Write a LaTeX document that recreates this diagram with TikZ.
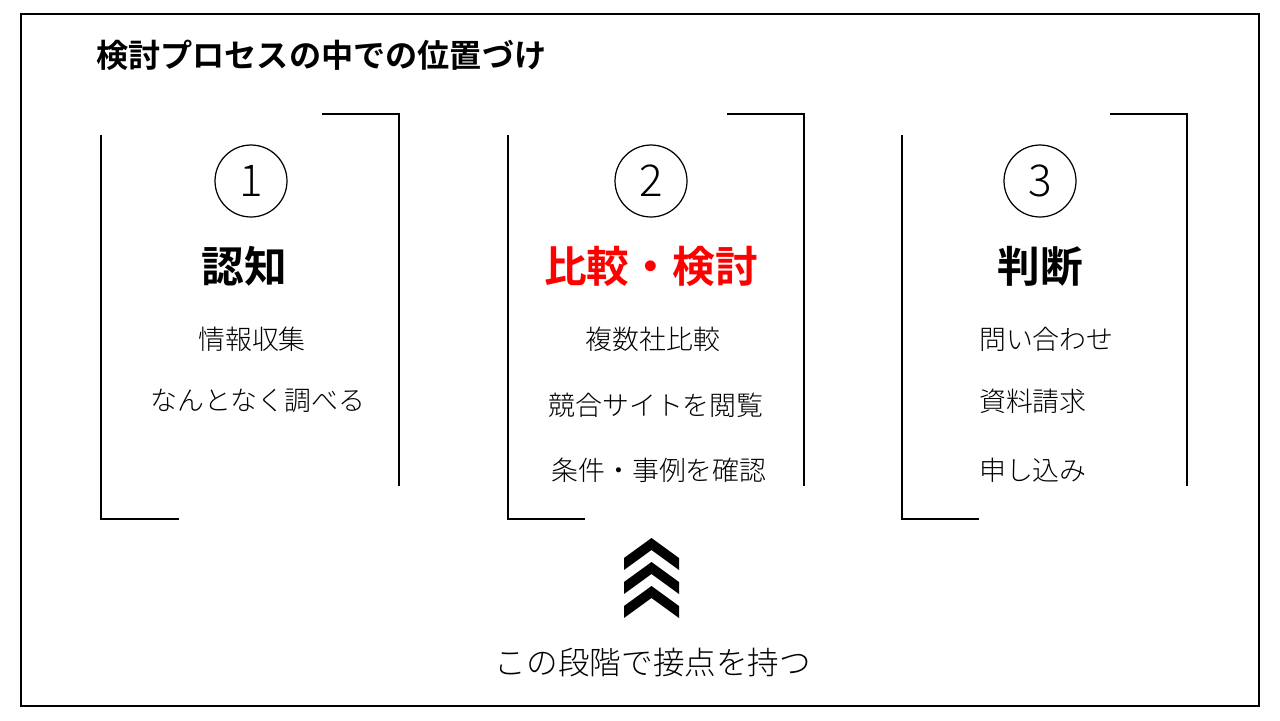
\documentclass[tikz,border=0pt]{standalone}
\usepackage{fontspec}
\setmainfont{Noto Sans CJK JP Light}
\newfontfamily\jpbold{Noto Sans CJK JP Bold}
\begin{document}
\begin{tikzpicture}[x=0.02cm, y=-0.02cm]
\tikzset{numnoeud/.style={draw, circle, line width=0.7pt, minimum size=1.44cm, inner sep=0pt, font=\fontsize{25}{25}\selectfont},
  titre/.style={font=\jpbold\fontsize{24.3}{26}\selectfont},
  item/.style={font=\fontsize{15.3}{17}\selectfont},
  crochet/.style={line width=0.6pt}}
\useasboundingbox (0,0) rectangle (1280,720);
\draw[line width=0.6pt] (21,14) rectangle (1259,706);
\node[font=\jpbold\fontsize{18.3}{20}\selectfont, anchor=west] (Titre) at (90,55) {検討プロセスの中での位置づけ};
% brackets
\draw[crochet] (101,135) -- (101,519) -- (179,519);
\draw[crochet] (322,114) -- (399,114) -- (399,486);
\draw[crochet] (508,135) -- (508,519) -- (585,519);
\draw[crochet] (727,114) -- (804,114) -- (804,486);
\draw[crochet] (902,135) -- (902,519) -- (979,519);
\draw[crochet] (1110,114) -- (1187,114) -- (1187,486);
% stages
\node[numnoeud] (N1) at (251,181) {1};
\node[numnoeud] (N2) at (651,181) {2};
\node[numnoeud] (N3) at (1040,181) {3};
\node[titre] (T1) at (244,266) {認知};
\node[titre, text=red] (T2) at (651,266) {比較・検討};
\node[titre] (T3) at (1040,266) {判断};
\node[item] (A1) at (252,339) {情報収集};
\node[item] (A2) at (258,401) {なんとなく調べる};
\node[item] (B1) at (653,339) {複数社比較};
\node[item] (B2) at (656,405) {競合サイトを閲覧};
\node[item] (B3) at (659,470) {条件・事例を確認};
\node[item, anchor=west] (C1) at (973,339) {問い合わせ};
\node[item, anchor=west] (C2) at (973,401) {資料請求};
\node[item, anchor=west] (C3) at (973,470) {申し込み};
% chevrons
\foreach \d in {0,24,48}
  \fill (624,558+\d) -- (651.5,538+\d) -- (679,558+\d) -- (679,570+\d) -- (651.5,550+\d) -- (624,570+\d) -- cycle;
\node[font=\fontsize{18}{20}\selectfont] (Bas) at (653,662) {この段階で接点を持つ};
\end{tikzpicture}
\end{document}
